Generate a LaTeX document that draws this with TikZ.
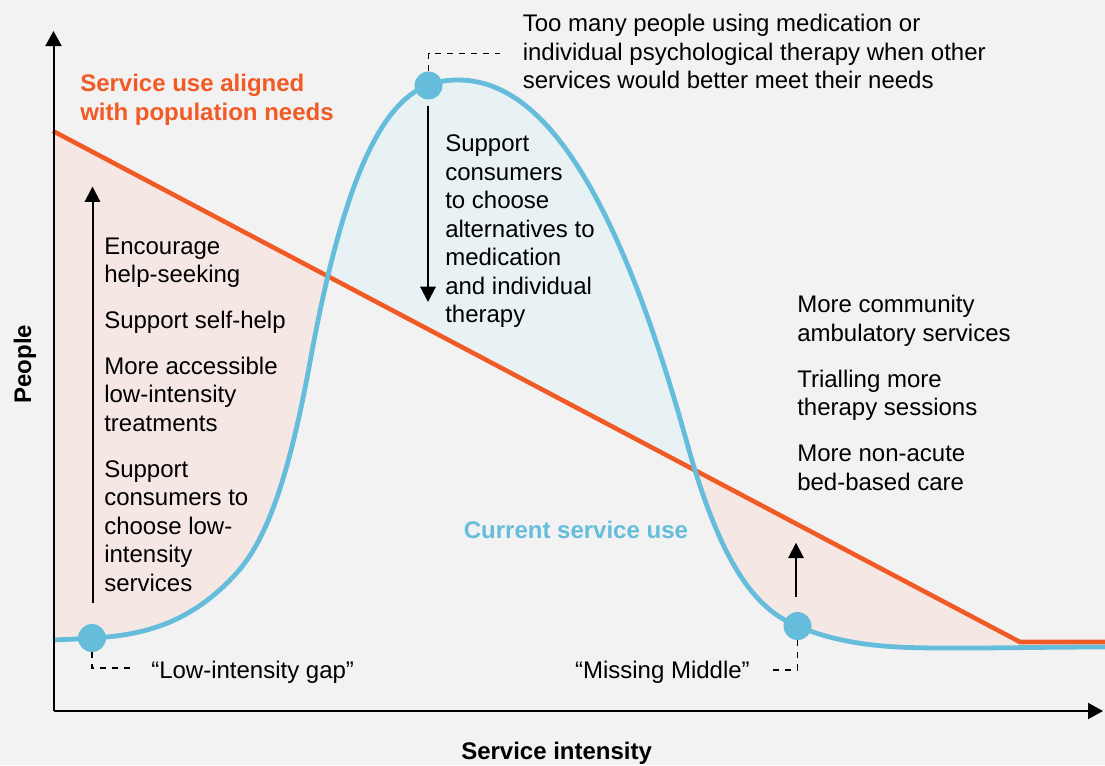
\documentclass[tikz,border=0pt]{standalone}
\usepackage{fontspec}
\setmainfont{Liberation Sans}
\usetikzlibrary{arrows.meta}

\definecolor{needorange}{HTML}{F15A24}
\definecolor{useblue}{HTML}{66BDDB}
\definecolor{gapfill}{HTML}{F5E8E4}
\definecolor{overfill}{HTML}{E8F2F5}
\definecolor{bgcol}{HTML}{F2F2F2}

\tikzstyle{txt}=[inner sep=0pt,align=left,anchor=north west,font=\fontsize{18}{21.4}\selectfont]
\tikzstyle{headtxt}=[txt,font=\fontsize{18}{21.4}\selectfont\bfseries]
\tikzstyle{dot}=[circle,fill=useblue,minimum size=21pt,inner sep=0pt]
\tikzstyle{axisline}=[line width=1.5pt,-{Triangle[width=12pt,length=11.25pt]}]
\tikzstyle{push}=[line width=1.5pt,-{Triangle[width=11.5pt,length=11.5pt]}]
\tikzstyle{leader}=[line width=1.1pt,dash pattern=on 4.5pt off 4.5pt]

\def\usecurve{(53,640) .. controls (113,637) and (173,640) .. (233,577)
    .. controls (258.7,550) and (284.3,503.2) .. (310,362)
    .. controls (356,109) and (408.7,80) .. (458,80)
    .. controls (534.3,80) and (610.7,168.3) .. (687,443)
    .. controls (723.7,575) and (760.3,610.6) .. (797,626)
    .. controls (851.3,648.8) and (905.7,648) .. (960,648)
    .. controls (1010,648) and (1050,647) .. (1105,647)}

\begin{document}
\begin{tikzpicture}[x=0.75pt,y=-0.75pt]
    \useasboundingbox (0,0) rectangle (1105,765);
    \fill[bgcol] (0,0) rectangle (1105,765);

    \begin{scope}
        \clip (53,131) -- (1020,642) -- (1105,642) -- (1105,711) -- (53,711) -- cycle;
        \fill[gapfill] \usecurve -- (1105,0) -- (53,0) -- cycle;
    \end{scope}
    \begin{scope}
        \clip (53,131) -- (1020,642) -- (1105,642) -- (1105,0) -- (53,0) -- cycle;
        \fill[overfill] \usecurve -- (1105,711) -- (53,711) -- cycle;
    \end{scope}

    \draw[needorange,line width=3.4pt] (53,131) -- (1020,642) -- (1105,642);
    \draw[useblue,line width=3.6pt] \usecurve;

    \coordinate (origin) at (53.5,711);
    \coordinate (ytip) at (53.5,31);
    \coordinate (xtip) at (1103,711);
    \draw[axisline] (origin) -- (ytip);
    \draw[axisline] (origin) -- (xtip);

    \node (lowdot)[dot] at (92,638) {};
    \node (topdot)[dot] at (428.5,85.5) {};
    \node (middot)[dot] at (797.5,626) {};

    \coordinate (lowfoot) at (92.5,603);
    \coordinate (lowhead) at (92.5,186.5);
    \coordinate (topfoot) at (428,106);
    \coordinate (tophead) at (428,302);
    \coordinate (midfoot) at (796,597);
    \coordinate (midhead) at (796,542.7);
    \draw[push] (lowfoot) -- (lowhead);
    \draw[push] (topfoot) -- (tophead);
    \draw[push] (midfoot) -- (midhead);

    \coordinate (lowend) at (132,668);
    \coordinate (topend) at (500,53.3);
    \coordinate (midend) at (771,670);
    \draw[leader] (lowdot) |- (lowend);
    \draw[leader] (topdot) |- (topend);
    \draw[leader] (middot) |- (midend);

    \node (needtitle)[headtxt,text=needorange] at (80,74) {Service use aligned\\with population needs};
    \node (usetitle)[headtxt,text=useblue] at (463.6,521) {Current service use};
    \node (toomany)[txt] at (522.5,14) {Too many people using medication or\\individual psychological therapy when other\\services would better meet their needs};
    \node (choose)[txt] at (445,134.6) {Support\\consumers\\to choose\\alternatives to\\medication\\and individual\\therapy};
    \node (lowtext)[txt] at (104,237.3) {Encourage\\help-seeking\\[13pt]Support self-help\\[13pt]More accessible\\low-intensity\\treatments\\[13pt]Support\\consumers to\\choose low-\\intensity\\services};
    \node (midtext)[txt] at (797,295) {More community\\ambulatory services\\[13pt]Trialling more\\therapy sessions\\[13pt]More non-acute\\bed-based care};
    \node (gaplabel)[txt] at (151,661) {“Low-intensity gap”};
    \node (missing)[txt,anchor=north east] at (750,661) {“Missing Middle”};
    \node (peoplelab)[headtxt,anchor=center,rotate=90] at (25,364) {People};
    \node (intenslab)[headtxt] at (461,742) {Service intensity};
\end{tikzpicture}
\end{document}
